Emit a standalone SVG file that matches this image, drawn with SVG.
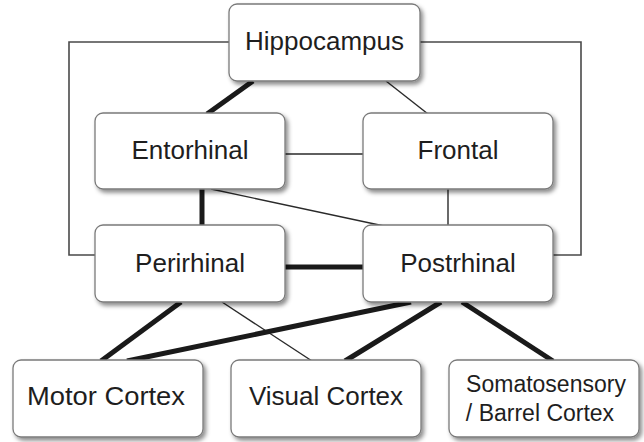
<svg xmlns="http://www.w3.org/2000/svg" width="644" height="442" viewBox="0 0 644 442">
  <defs>
    <filter id="shadow" x="-10%" y="-10%" width="130%" height="140%">
      <feDropShadow dx="2.5" dy="3" stdDeviation="2" flood-color="#000" flood-opacity="0.45"/>
    </filter>
  </defs>
  <style>
    .box { fill: #ffffff; stroke: #7a7a7a; stroke-width: 1.3; filter: url(#shadow); }
    .label { font-family: "Liberation Sans", Arial, sans-serif; font-size: 26px; fill: #1e1e1e; text-anchor: middle; }
    .small { font-size: 23px; }
    .thick { stroke: #1a1a1a; stroke-width: 5; fill: none; }
    .thin { stroke: #2a2a2a; stroke-width: 1.4; fill: none; }
    .loop { stroke: #4a4a4a; stroke-width: 1.6; fill: none; }
  </style>
  <rect width="644" height="442" fill="#ffffff"/>

  <g id="connectors">
    <polyline class="loop" points="229,42 69,42 69,255 95,255"/>
    <polyline class="loop" points="420,42 581,42 581,255 553,255"/>
    <line class="thick" x1="253" y1="81" x2="207" y2="114"/>
    <line class="thin" x1="386" y1="81" x2="428" y2="114"/>
    <line class="thin" x1="285" y1="154" x2="363" y2="154"/>
    <line class="thick" x1="202" y1="189" x2="202" y2="226"/>
    <line class="thin" x1="211" y1="189" x2="384" y2="226"/>
    <line class="thin" x1="448" y1="189" x2="448" y2="226"/>
    <line class="thick" x1="285" y1="267" x2="363" y2="267"/>
    <line class="thick" x1="181" y1="302" x2="101" y2="361"/>
    <line class="thin" x1="222" y1="302" x2="312" y2="361"/>
    <line class="thick" x1="411" y1="302" x2="127" y2="361"/>
    <line class="thick" x1="441" y1="302" x2="345" y2="361"/>
    <line class="thick" x1="462" y1="302" x2="553" y2="361"/>
  </g>

  <g id="hippocampus">
    <rect class="box" x="229" y="4" width="191" height="77" rx="8"/>
    <text class="label" x="324.5" y="50">Hippocampus</text>
  </g>
  <g id="entorhinal">
    <rect class="box" x="95" y="113" width="190" height="76" rx="8"/>
    <text class="label" x="190" y="159">Entorhinal</text>
  </g>
  <g id="frontal">
    <rect class="box" x="363" y="113" width="190" height="76" rx="8"/>
    <text class="label" x="458" y="159">Frontal</text>
  </g>
  <g id="perirhinal">
    <rect class="box" x="95" y="225" width="190" height="77" rx="8"/>
    <text class="label" x="190" y="272">Perirhinal</text>
  </g>
  <g id="postrhinal">
    <rect class="box" x="363" y="225" width="190" height="77" rx="8"/>
    <text class="label" x="458" y="272">Postrhinal</text>
  </g>
  <g id="motor-cortex">
    <rect class="box" x="13" y="360" width="190" height="77" rx="8"/>
    <text class="label" x="106" y="405" textLength="158" lengthAdjust="spacingAndGlyphs">Motor Cortex</text>
  </g>
  <g id="visual-cortex">
    <rect class="box" x="231" y="360" width="190" height="77" rx="8"/>
    <text class="label" x="326" y="405">Visual Cortex</text>
  </g>
  <g id="somatosensory">
    <rect class="box" x="449" y="360" width="190" height="77" rx="8"/>
    <text class="label small" x="546" y="392">Somatosensory</text>
    <text class="label small" x="540" y="421">/ Barrel Cortex</text>
  </g>
</svg>
